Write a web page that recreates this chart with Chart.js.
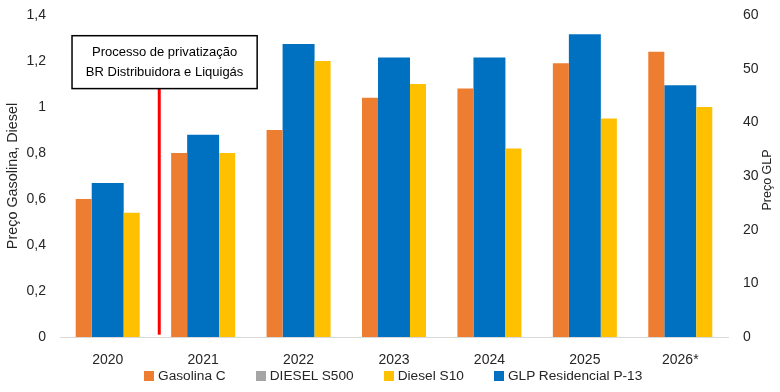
<!DOCTYPE html>
<html>
<head>
<meta charset="utf-8">
<script src="https://cdn.jsdelivr.net/npm/chart.js@4/dist/chart.umd.min.js"></script>
<style>
    html, body { margin: 0; padding: 0; background: #fff; }
    .wrap { position: relative; width: 780px; height: 392px; }
    .legend {
        position: absolute; left: 144px; top: 368px;
        display: flex; align-items: center;
        font: 13.7px 'Liberation Sans', Arial, sans-serif; color: #262626;
    }
    .legend-item { display: flex; align-items: center; margin-right: 30px; }
    .legend-dot { width: 10px; height: 10px; margin-right: 4px; display: inline-block; }
</style>
</head>
<body>
<div class="wrap">
    <canvas id="barChart" width="780" height="392"></canvas>
    <div class="legend" id="barLegend"></div>
</div>
<script>
// ── Data ─────────────────────────────────────
const years      = ['2020', '2021', '2022', '2023', '2024', '2025', '2026*'];
const gasolinaC  = [0.60, 0.80, 0.90, 1.04, 1.08, 1.19, 1.24];
const dieselS500 = [null, null, null, null, null, null, null];
const dieselS10  = [0.54, 0.80, 1.20, 1.10, 0.82, 0.95, 1.00];
const glpP13     = [28.7, 37.7, 54.6, 52.1, 52.1, 56.4, 46.9];
const seriesNames  = ['Gasolina C', 'DIESEL S500', 'Diesel S10', 'GLP Residencial P-13'];
const seriesColors = ['#ED7D31', '#A5A5A5', '#FFC000', '#0070C0'];

const FONT = "'Liberation Sans', Arial, sans-serif";
const TXT  = '#262626';
const fmt = v => Number(v.toFixed(1)).toString().replace('.', ',');

// ── Annotation + right title ────────────────
const annotate = {
    id: 'annotate',
    afterDatasetsDraw(chart) {
        const { ctx, scales: { x, y } } = chart;
        const lx   = x.getPixelForValue(0.54);
        const top  = y.getPixelForValue(1.31);
        const bot  = y.getPixelForValue(1.08);
        const left = x.getPixelForValue(-0.374);
        const right = x.getPixelForValue(1.566);

        ctx.save();
        // red line
        ctx.strokeStyle = '#FF0000';
        ctx.lineWidth = 3;
        ctx.beginPath();
        ctx.moveTo(lx, bot);
        ctx.lineTo(lx, y.getPixelForValue(0.01));
        ctx.stroke();

        // box
        ctx.fillStyle = '#fff';
        ctx.fillRect(left, top, right - left, bot - top);
        ctx.strokeStyle = '#000';
        ctx.lineWidth = 1.5;
        ctx.strokeRect(left, top, right - left, bot - top);

        ctx.fillStyle = '#000';
        ctx.font = '13px ' + FONT;
        ctx.textAlign = 'center';
        ctx.textBaseline = 'middle';
        const cx = (left + right) / 2;
        ctx.fillText('Processo de privatização', cx, top + 17);
        ctx.fillText('BR Distribuidora e Liquigás', cx, top + 37);

        // right axis title, bottom-to-top
        const ca = chart.chartArea;
        ctx.translate(768, (ca.top + ca.bottom) / 2 + 4);
        ctx.rotate(-Math.PI / 2);
        ctx.fillStyle = TXT;
        ctx.font = '12.5px ' + FONT;
        ctx.fillText('Preço GLP', 0, 0);
        ctx.restore();
    }
};

// keep the plot edge fixed, labels may overhang
const fixVertical = w => s => { s.width = w; s.paddingTop = 0; s.paddingBottom = 0; };

// ── Chart ────────────────────────────────────
const barCtx = document.getElementById('barChart');
new Chart(barCtx, {
    type: 'bar',
    data: {
        labels: years,
        datasets: [
            { label: seriesNames[0], data: gasolinaC,  backgroundColor: seriesColors[0], yAxisID: 'y' },
            { label: seriesNames[1], data: dieselS500, backgroundColor: seriesColors[1], yAxisID: 'y' },
            { label: seriesNames[2], data: dieselS10,  backgroundColor: seriesColors[2], yAxisID: 'y' },
            {
                label: seriesNames[3], data: glpP13, backgroundColor: seriesColors[3], yAxisID: 'y2',
                grouped: false, barPercentage: 0.444
            }
        ]
    },
    options: {
        responsive: false,
        animation: false,
        categoryPercentage: 0.7545,
        barPercentage: 0.667,
        layout: { padding: { top: 15, bottom: 25, left: 0, right: 0 } },
        plugins: { legend: { display: false }, tooltip: { enabled: false } },
        scales: {
            x: {
                grid: { display: false, drawTicks: false },
                border: { display: true, color: '#D9D9D9', width: 1 },
                ticks: { color: TXT, font: { family: FONT, size: 14 }, padding: 15 },
                afterFit: s => { s.height = 30; }
            },
            y: {
                position: 'left',
                min: 0, max: 1.4,
                grid: { display: false, drawTicks: false },
                border: { display: false },
                ticks: { stepSize: 0.2, color: TXT, font: { family: FONT, size: 14 }, padding: 14, callback: fmt },
                title: {
                    display: true, text: 'Preço Gasolina, Diesel', color: TXT,
                    font: { family: FONT, size: 14.4 }, padding: { top: 4, bottom: 0 }
                },
                afterFit: fixVertical(60)
            },
            y2: {
                position: 'right',
                min: 0, max: 60,
                grid: { display: false, drawTicks: false },
                border: { display: false },
                ticks: { stepSize: 10, color: TXT, font: { family: FONT, size: 14 }, padding: 15 },
                afterFit: fixVertical(52)
            }
        }
    },
    plugins: [annotate]
});

// Build legend
const legendEl = document.getElementById('barLegend');
seriesNames.forEach((name, i) => {
    legendEl.innerHTML += `
        <div class="legend-item">
            <span class="legend-dot" style="background:${seriesColors[i]}"></span>
            ${name}
        </div>`;
});
</script>
</body>
</html>
